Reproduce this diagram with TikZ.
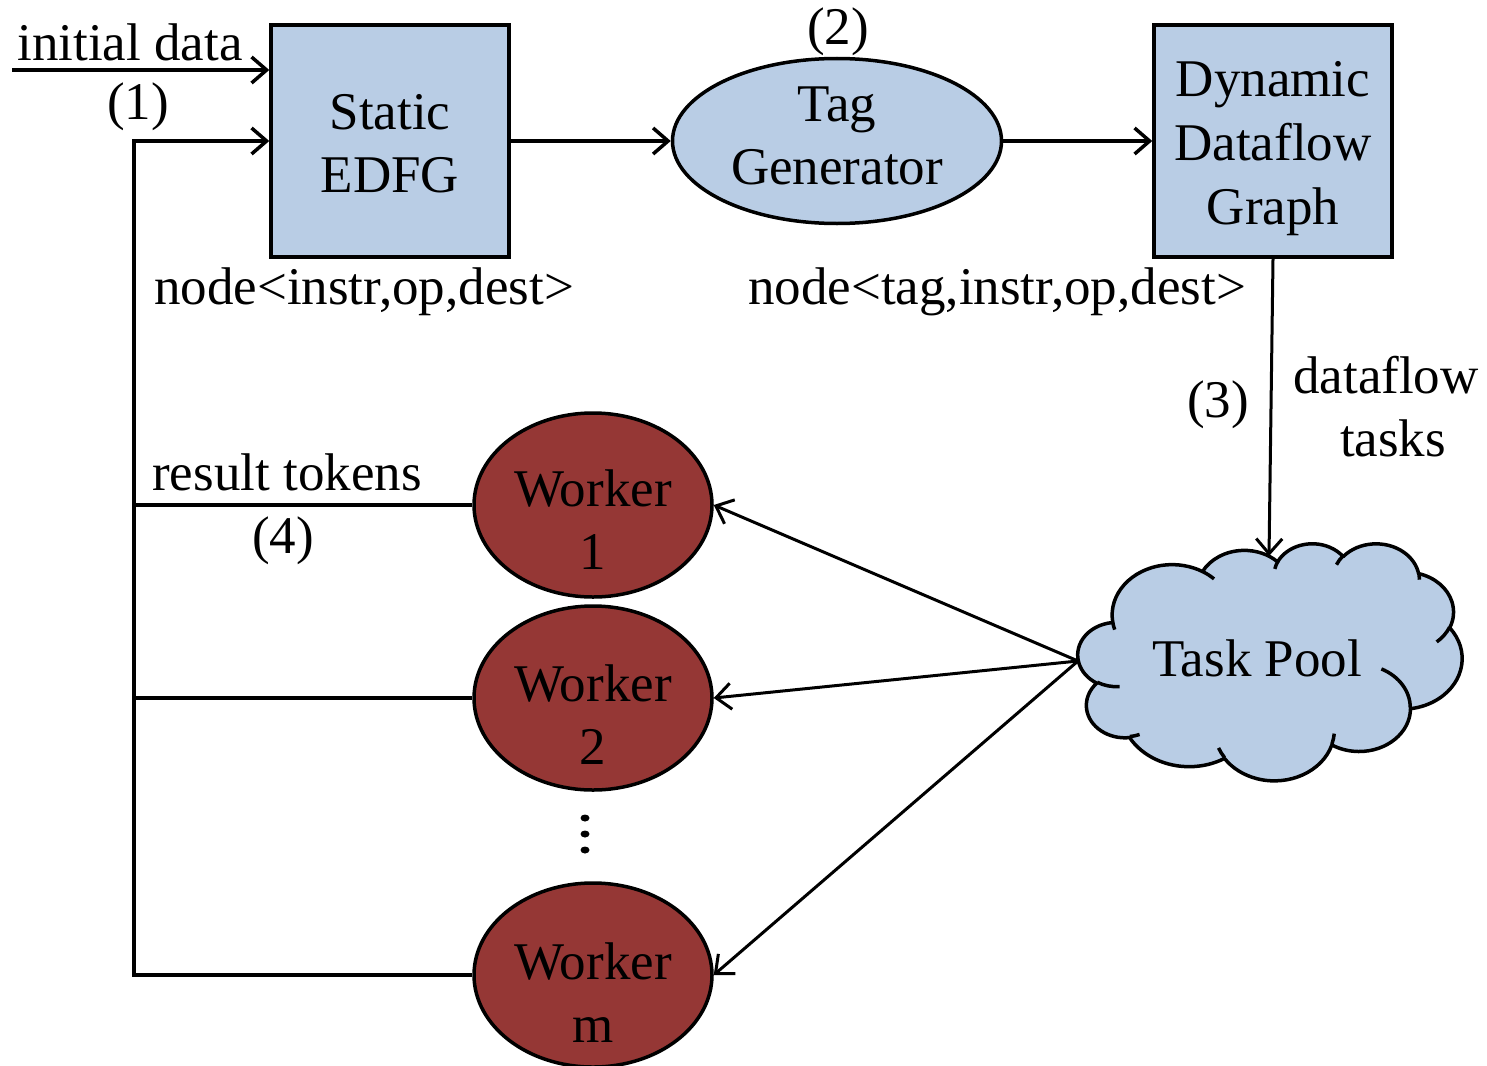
\documentclass[tikz,border=0pt]{standalone}
\usepackage{fontspec}
\setmainfont{Liberation Serif}
\usetikzlibrary{arrows.meta,shapes.geometric}
\definecolor{boxblue}{HTML}{B9CDE5}
\definecolor{workred}{HTML}{953735}
% visual angle -> parametric angle for an arc of an ellipse
\newcommand\cloudang[5]{%
  \pgfmathsetmacro\tmpS{atan2((#2)*sin(#4),(#3)*cos(#4))}%
  \pgfmathsetmacro\tmpE{atan2((#2)*sin(#4+#5),(#3)*cos(#4+#5))}%
  \pgfmathsetmacro\tmpE{(\tmpE<\tmpS) ? (\tmpE+360) : (\tmpE)}%
  \expandafter\let\csname clds#1\endcsname\tmpS
  \expandafter\let\csname clde#1\endcsname\tmpE}
\begin{document}
\begin{tikzpicture}[x=1pt,y=-1pt,
  every node/.style={font=\fontsize{53}{63}\selectfont, align=center, inner sep=0pt},
  bluebox/.style={draw, line width=3.5pt, fill=boxblue, minimum width=238pt, minimum height=232pt},
  tagell/.style={draw, line width=3.5pt, fill=boxblue, ellipse, minimum width=329pt, minimum height=165pt},
  worker/.style={draw, line width=3.5pt, fill=workred, ellipse, minimum width=238pt, minimum height=184pt},
  arr/.style={line width=3.5pt, -{Straight Barb[length=15pt,width=26pt]}},
  thinarr/.style={line width=3pt, -{Straight Barb[length=15pt,width=26pt]}},
  conn/.style={line width=3.5pt},
  cloudline/.style={line width=3.5pt, line join=round}
]
\useasboundingbox (0,0) rectangle (1487,1065);

% main nodes
\node[bluebox, label={[yshift=-3pt]center:Static\\EDFG}] (static) at (390,141) {};
\node[tagell, label={[yshift=5pt]center:Tag\\Generator}] (tag) at (837,141) {};
\node[bluebox, label={[yshift=-8pt, font=\fontsize{53}{64}\selectfont]center:Dynamic\\Dataflow\\Graph}] (ddg) at (1273,141) {};
\node[worker, label={[yshift=-15pt]center:Worker\\1}] (w1) at (593,505) {};
\node[worker, label={[yshift=-17pt]center:Worker\\2}] (w2) at (593,698) {};
\node[worker, label={[yshift=-18pt]center:Worker\\m}] (wm) at (593,975) {};

% Task Pool cloud (PowerPoint-style cloud outline)
\cloudang{A}{67.53}{91.90}{-190.48748}{123.78053}
\cloudang{B}{53.33}{72.67}{-144.10238}{89.94523}
\cloudang{C}{43.65}{59.45}{-145.80792}{99.72302}
\cloudang{D}{48.57}{65.95}{-130.98607}{117.24173}
\cloudang{E}{53.33}{72.73}{-78.70888}{109.02692}
\cloudang{F}{67.75}{92.20}{-46.26725}{130.269}
\cloudang{G}{57.85}{78.67}{0.62502}{114.03333}
\cloudang{H}{67.52}{92.15}{22.4516}{115.17255}
\cloudang{I}{77.20}{105.43}{66.24263}{75.71102}
\cloudang{J}{43.60}{59.18}{-274.94208}{146.73557}
\cloudang{K}{43.45}{59.45}{-246.8285}{152.51885}
\cloudang{a}{43.45}{59.45}{86.742}{26.4295}
\cloudang{b}{43.60}{59.18}{73.61047}{11.44747}
\cloudang{c}{67.52}{92.15}{137.62415}{14.0811}
\cloudang{d}{67.52}{92.15}{6.45327}{15.99835}
\cloudang{e}{57.85}{78.67}{-70.29235}{70.91737}
\cloudang{f}{53.33}{72.73}{30.31803}{27.7515}
\cloudang{g}{48.57}{65.95}{-13.74433}{14.8589}
\cloudang{h}{48.57}{65.95}{-149.18145}{18.19537}
\cloudang{i}{43.65}{59.45}{-163.49427}{17.68635}
\cloudang{j}{67.53}{91.90}{-66.70695}{12.31935}
\cloudang{k}{67.53}{91.90}{157.65435}{11.85817}
\begin{scope}[shift={(1078pt,-543pt)}, x=0.888889pt, y=-0.548611pt]
\path[cloudline, draw, fill=boxblue] (39.00,143.70)
  arc[start angle=\cldsA, end angle=\cldeA, x radius=67.53, y radius=91.90]
  arc[start angle=\cldsB, end angle=\cldeB, x radius=53.33, y radius=72.67]
  arc[start angle=\cldsC, end angle=\cldeC, x radius=43.65, y radius=59.45]
  arc[start angle=\cldsD, end angle=\cldeD, x radius=48.57, y radius=65.95]
  arc[start angle=\cldsE, end angle=\cldeE, x radius=53.33, y radius=72.73]
  arc[start angle=\cldsF, end angle=\cldeF, x radius=67.75, y radius=92.20]
  arc[start angle=\cldsG, end angle=\cldeG, x radius=57.85, y radius=78.67]
  arc[start angle=\cldsH, end angle=\cldeH, x radius=67.52, y radius=92.15]
  arc[start angle=\cldsI, end angle=\cldeI, x radius=77.20, y radius=105.43]
  arc[start angle=\cldsJ, end angle=\cldeJ, x radius=43.60, y radius=59.18]
  arc[start angle=\cldsK, end angle=\cldeK, x radius=43.45, y radius=59.45]
  -- cycle;
\draw[cloudline, line cap=butt]
  (46.93,261.77) arc[start angle=\cldsa, end angle=\cldea, x radius=43.45, y radius=59.45]
  (69.28,348.99) arc[start angle=\cldsb, end angle=\cldeb, x radius=43.60, y radius=59.18]
  (164.78,390.90) arc[start angle=\cldsc, end angle=\cldec, x radius=67.52, y radius=92.15]
  (288.27,347.51) arc[start angle=\cldsd, end angle=\clded, x radius=67.52, y radius=92.15]
  (341.29,229.54) arc[start angle=\cldse, end angle=\cldee, x radius=57.85, y radius=78.67]
  (417.98,153.54) arc[start angle=\cldsf, end angle=\cldef, x radius=53.33, y radius=72.73]
  (383.24,54.26) arc[start angle=\cldsg, end angle=\cldeg, x radius=48.57, y radius=65.95]
  (290.78,39.52) arc[start angle=\cldsh, end angle=\cldeh, x radius=48.57, y radius=65.95]
  (221.41,47.20) arc[start angle=\cldsi, end angle=\cldei, x radius=43.65, y radius=59.45]
  (140.00,51.92) arc[start angle=\cldsj, end angle=\cldej, x radius=67.53, y radius=91.90]
  (41.27,157.89) arc[start angle=\cldsk, end angle=\cldek, x radius=67.53, y radius=91.90];
\end{scope}
\node (pool) at (1257,658) {Task Pool};

% labels
\node (linit) at (130,42) {initial data};
\node (l1) at (138,107) {(1)};
\node (l2) at (838,32) {(2)};
\node (lnode1) at (364,292) {node<instr,op,dest>};
\node (lnode2) at (997,292) {node<tag,instr,op,dest>};
\node (l3) at (1218,405) {(3)};
\node (ltasks) at (1386,407) {dataflow\\\hspace*{14pt}tasks};
\node (lres) at (287,472) {result tokens};
\node (l4) at (283,541) {(4)};

% vertical ellipsis
\fill (585,818) ellipse (4.5pt and 3.5pt);
\fill (585,834) ellipse (4.5pt and 3.5pt);
\fill (585,850) ellipse (4.5pt and 3.5pt);

% coordinates
\coordinate (in) at (12,70);
\coordinate (fbtop) at (134,141);
\coordinate (fbbot) at (134,975);
\coordinate (pooltop) at (1269,556);
\coordinate (poolleft) at (1078,661);

% connectors
\draw[arr] (in) -- (in -| static.west);
\draw[arr] (static.east) -- (tag.west);
\draw[arr] (tag.east) -- (ddg.west);
\draw[thinarr] (ddg.south) -- (pooltop);
\draw[thinarr] (poolleft) -- (w1.east);
\draw[thinarr] (poolleft) -- (w2.east);
\draw[thinarr] (poolleft) -- (wm.east);
\draw[conn] (w1.west) -- (w1.west -| fbtop);
\draw[conn] (w2.west) -- (w2.west -| fbtop);
\draw[arr] (wm.west) -- (fbbot) -- (fbtop) -- (static.west);
\end{tikzpicture}
\end{document}
